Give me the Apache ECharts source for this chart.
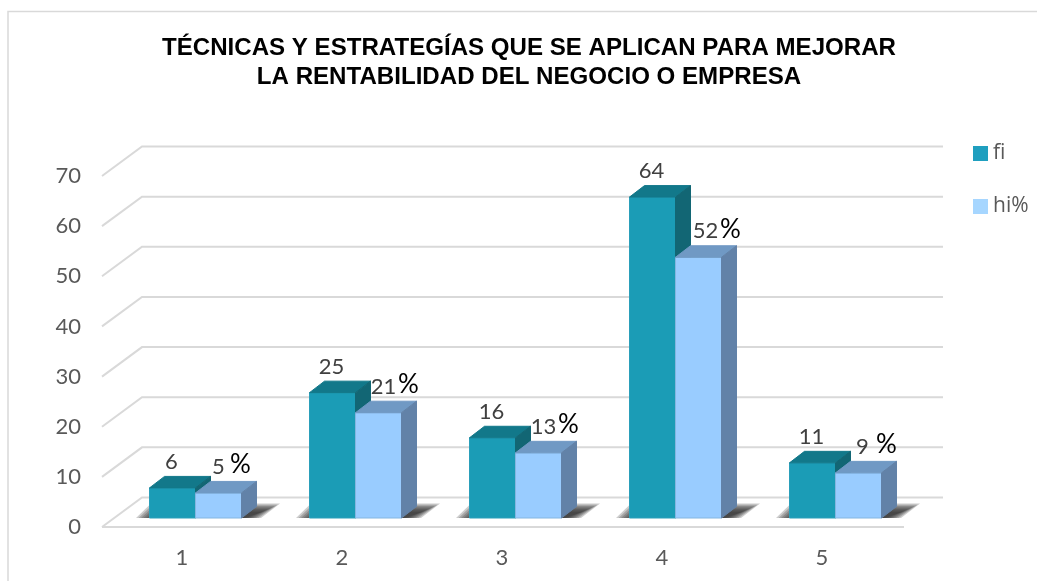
<!DOCTYPE html>
<html>
<head>
<meta charset="utf-8">
<style>
  html, body { margin: 0; padding: 0; background: #fff; }
  #main { width: 1037px; height: 581px; }
</style>
<script src="https://cdn.jsdelivr.net/npm/echarts@6/dist/echarts.min.js"></script>
</head>
<body>
<div id="main"></div>
<script>
const categories = ['1', '2', '3', '4', '5'];
const fiValues = [6, 25, 16, 64, 11];
const hiValues = [5, 21, 13, 52, 9];
const yTicks = [0, 10, 20, 30, 40, 50, 60, 70];

// 3d look: the floor and walls are pushed back by this much
const wallDx = 40, wallDy = -29.5;
const barDx = 15, barDy = -11.5;
const barWidth = 46;
const barShiftX = 13.5, barShiftY = -9;
// the % signs were placed by hand in the original, so they do not line up
const hiNumDx = [0, 5, 5, 7, 4];
const hiPctDx = [22, 30, 30, 32, 28];

const myChart = echarts.init(document.getElementById('main'), null, { renderer: 'canvas' });

function poly(points, fill, stroke) {
  return {
    type: 'polygon',
    shape: { points: points },
    style: { fill: fill, stroke: stroke || fill, lineWidth: 1 }
  };
}

function label(x, y, text, size, color) {
  return {
    type: 'text',
    x: x,
    y: y,
    style: {
      text: text,
      fontFamily: 'Lato',
      fontSize: size,
      fill: color,
      align: 'center',
      verticalAlign: 'middle'
    }
  };
}

// one 3d bar: front, top and side faces
function barRender(offset, colors, extra) {
  return function (params, api) {
    const i = api.value(0);
    const val = api.value(1);
    const base = api.coord([i, 0]);
    const top = api.coord([i, val]);
    const x0 = base[0] + barShiftX - barWidth + offset;
    const x1 = x0 + barWidth;
    const y0 = base[1] + barShiftY;
    const y1 = top[1] + barShiftY;
    const children = [
      poly([[x0, y0], [x1, y0], [x1, y1], [x0, y1]], colors[0], colors[3]),
      poly([[x0, y1], [x1, y1], [x1 + barDx, y1 + barDy], [x0 + barDx, y1 + barDy]], colors[1]),
      poly([[x1, y0], [x1 + barDx, y0 + barDy], [x1 + barDx, y1 + barDy], [x1, y1]], colors[2])
    ];
    return { type: 'group', children: children.concat(extra(i, val, x0 + barWidth / 2, y1)) };
  };
}

const option = {
  animation: false,
  backgroundColor: '#fff',
  title: {
    text: 'TÉCNICAS Y ESTRATEGÍAS QUE SE APLICAN PARA MEJORAR\nLA RENTABILIDAD DEL NEGOCIO O EMPRESA',
    left: 524,
    top: 29,
    textAlign: 'center',
    textStyle: {
      fontFamily: 'Liberation Sans',
      fontSize: 24.1,
      fontWeight: 'bold',
      color: '#000',
      lineHeight: 29
    }
  },
  legend: {
    data: ['fi', 'hi%'],
    orient: 'vertical',
    left: 968,
    top: 138,
    icon: 'rect',
    itemWidth: 15,
    itemHeight: 15,
    itemGap: 32,
    textStyle: { fontFamily: 'Open Sans', fontSize: 21, color: '#595959' }
  },
  grid: { left: 102, right: 135, top: 176, bottom: 54 },
  xAxis: {
    type: 'category',
    data: categories,
    axisLine: { show: false },
    axisTick: { show: false },
    axisLabel: { fontFamily: 'Lato', fontSize: 22, color: '#595959', margin: 20 }
  },
  yAxis: {
    type: 'value',
    min: 0,
    max: 70,
    interval: 10,
    axisLine: { show: false },
    axisTick: { show: false },
    splitLine: { show: false },
    axisLabel: { fontFamily: 'Lato', fontSize: 22, color: '#595959', margin: 21 }
  },
  graphic: [{
    type: 'polyline',
    shape: { points: [[8, 581], [8, 11.5], [1037, 11.5]] },
    style: { stroke: '#d9d9d9', fill: 'none', lineWidth: 1.5 },
    z: 0
  }],
  series: [
    {
      // walls: one line per tick, from the front edge back and across
      type: 'custom',
      name: 'wall',
      data: yTicks.map(t => [t]),
      clip: false,
      silent: true,
      z: 1,
      renderItem: function (params, api) {
        const p = api.coord([0, api.value(0)]);
        const left = p[0] - 80;
        const right = left + 800;
        const pts = [[left, p[1]], [left + wallDx, p[1] + wallDy], [right + wallDx + 1, p[1] + wallDy]];
        const lineStyle = { stroke: '#d9d9d9', fill: 'none', lineWidth: 2 };
        const children = [{ type: 'polyline', shape: { points: pts }, style: lineStyle }];
        if (api.value(0) === 0) {
          children.push({
            type: 'polyline',
            shape: { points: [[left, p[1]], [right + 2, p[1]]] },
            style: lineStyle
          });
        }
        return { type: 'group', children: children };
      }
    },
    {
      // floor shadow: stacked see-through shapes so the edge fades out
      type: 'custom',
      name: 'shadow',
      data: categories.map((c, i) => [i]),
      clip: false,
      silent: true,
      z: 2,
      renderItem: function (params, api) {
        const p = api.coord([api.value(0), 0]);
        const x0 = p[0] + barShiftX - barWidth;
        const x1 = x0 + 2 * barWidth;
        const y0 = p[1] + barShiftY;
        const children = [];
        for (let e = 7; e >= 0; e--) {
          const topY = y0 - 6 - e * 1.2;
          children.push({
            type: 'polygon',
            shape: {
              points: [
                [x0 + 4 - e * 2.5, y0],
                [x0 + 12 - e * 1.5, topY],
                [x1 + barDx + 6 + e * 2.5, topY],
                [x1 + 2 + e * 2.5, y0]
              ]
            },
            style: { fill: 'rgba(50,50,50,0.25)' }
          });
        }
        return { type: 'group', children: children };
      }
    },
    {
      type: 'custom',
      name: 'fi',
      data: fiValues.map((v, i) => [i, v]),
      clip: false,
      z: 3,
      itemStyle: { color: '#1f9fbf' },
      renderItem: barRender(0, ['#1b9cb6', '#12788a', '#126674', '#2a9fba'], function (i, val, cx, y1) {
        return [label(cx - 1, y1 - 26, String(val), 22, '#404040')];
      })
    },
    {
      type: 'custom',
      name: 'hi%',
      data: hiValues.map((v, i) => [i, v]),
      clip: false,
      z: 4,
      itemStyle: { color: '#a6d6ff' },
      renderItem: barRender(barWidth, ['#99ccff', '#7099c4', '#6282a8', '#84b6e0'], function (i, val, cx, y1) {
        return [
          label(cx + hiNumDx[i], y1 - 26, String(val), 22, '#404040'),
          label(cx + hiPctDx[i], y1 - 28, '%', 26, '#000')
        ];
      })
    }
  ]
};

myChart.setOption(option);
</script>
</body>
</html>
